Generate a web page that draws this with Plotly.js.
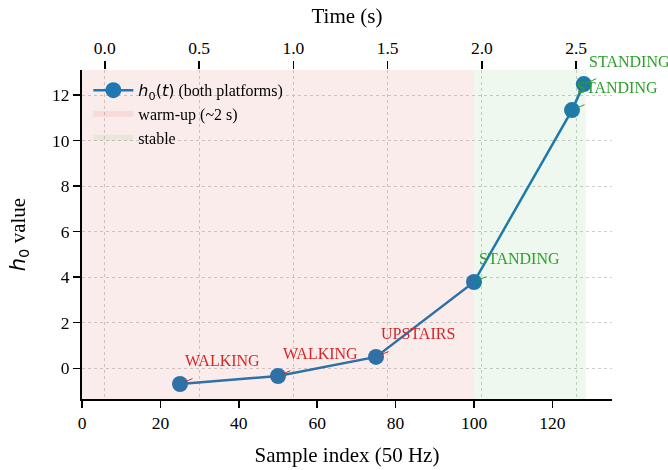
<!DOCTYPE html>
<html>
<head>
<meta charset="utf-8">
<script src="https://cdn.plot.ly/plotly-3.0.1.min.js"></script>
<style>html,body{margin:0;padding:0;background:#fff;}#chart{width:668px;height:470px;}</style>
</head>
<body>
<div id="chart"></div>
<script>
// ---- data ----
const sampleIdx = [25, 50, 75, 100, 125, 128];
const h0Values = [-0.69, -0.34, 0.50, 3.79, 11.34, 12.48];
const activityLabels = ['WALKING', 'WALKING', 'UPSTAIRS', 'STANDING', 'STANDING', 'STANDING'];
const warmupSpan = [0, 100];
const stableSpan = [100, 128.5];
const sampleRateHz = 50;
const sampleTicks = [0, 20, 40, 60, 80, 100, 120];
const timeTicks = [0.0, 0.5, 1.0, 1.5, 2.0, 2.5];
const h0Ticks = [0, 2, 4, 6, 8, 10, 12];

// ---- styles ----
const SERIF = 'Liberation Serif, Times New Roman, serif';
const BLUE = '#1f77b4', RED = '#d62728', GREEN = '#2ca02c';
const GRID = '#cfcfcf';

const timeVals = sampleIdx.map(s => s / sampleRateHz);

function spanTrace(span, name, color, rank) {
  return {
    x: [span[0], span[1], span[1], span[0], span[0]],
    y: [0, 0, 1, 1, 0],
    xaxis: 'x', yaxis: 'y2', type: 'scatter', mode: 'none',
    fill: 'toself', fillcolor: color, name: name,
    hoverinfo: 'skip', legendrank: rank
  };
}

const traces = [
  spanTrace(warmupSpan, 'warm-up (~2 s)', 'rgba(214,39,40,0.09)', 2),
  spanTrace(stableSpan, 'stable', 'rgba(44,160,44,0.08)', 3),
  {
    x: sampleIdx, y: h0Values, xaxis: 'x', yaxis: 'y',
    type: 'scatter', mode: 'lines+markers',
    name: "<span style=\"font-family:'DejaVu Sans'\"><i>h</i><sub>0</sub>(<i>t</i>)</span> (both platforms)",
    line: {color: BLUE, width: 2.5},
    marker: {color: BLUE, size: 16},
    cliponaxis: false,
    legendrank: 1
  },
  {
    x: timeVals, y: h0Values, xaxis: 'x2', yaxis: 'y',
    type: 'scatter', mode: 'markers', opacity: 0,
    showlegend: false, hoverinfo: 'skip', marker: {size: 1}
  }
];

const annotations = [];
sampleIdx.forEach((s, i) => {
  const col = s >= stableSpan[0] ? GREEN : RED;
  annotations.push({
    x: s, y: h0Values[i], xref: 'x', yref: 'y',
    text: activityLabels[i], showarrow: false,
    xanchor: 'left', yanchor: 'middle', xshift: 3, yshift: 23,
    font: {family: SERIF, size: 16, color: col}
  });
  annotations.push({
    x: s, y: h0Values[i], xref: 'x', yref: 'y',
    text: '', showarrow: true, ax: 14, ay: -6,
    arrowhead: 0, arrowwidth: 1, arrowcolor: col, standoff: 5
  });
});

const layout = {
  width: 668, height: 470,
  margin: {l: 82, r: 56, t: 70, b: 71},
  paper_bgcolor: '#ffffff', plot_bgcolor: '#ffffff',
  font: {family: SERIF, color: '#000', size: 17},
  showlegend: true,
  legend: {
    x: 0.012, y: 0.99, xanchor: 'left', yanchor: 'top',
    bgcolor: 'rgba(0,0,0,0)', borderwidth: 0,
    font: {family: SERIF, size: 16, color: '#000'},
    itemwidth: 40, tracegroupgap: 0, traceorder: 'normal'
  },
  xaxis: {
    range: [0, 135.2], tickvals: sampleTicks,
    showgrid: false, zeroline: false,
    showline: true, linecolor: '#000', linewidth: 2,
    ticks: 'outside', ticklen: 7, tickwidth: 1.5, tickcolor: '#000',
    tickfont: {family: SERIF, size: 17.5},
    title: {text: 'Sample index (50 Hz)', font: {family: SERIF, size: 21}, standoff: 15}
  },
  xaxis2: {
    overlaying: 'x', side: 'top', anchor: 'y',
    range: [-0.121, 2.69], tickvals: timeTicks, tickformat: '.1f',
    showgrid: true, gridcolor: GRID, griddash: 'dot', gridwidth: 1,
    zeroline: false, showline: false,
    ticks: 'outside', ticklen: 8, tickwidth: 1.5, tickcolor: '#000',
    tickfont: {family: SERIF, size: 17.5},
    title: {text: 'Time (s)', font: {family: SERIF, size: 21}, standoff: 8}
  },
  yaxis: {
    range: [-1.35, 13.1], tickvals: h0Ticks,
    showgrid: true, gridcolor: GRID, griddash: 'dot', gridwidth: 1,
    zeroline: false,
    showline: true, linecolor: '#000', linewidth: 2,
    ticks: 'outside', ticklen: 7, tickwidth: 1.5, tickcolor: '#000',
    tickfont: {family: SERIF, size: 17.5},
    title: {text: "<span style=\"font-family:'DejaVu Sans'\"><i>h</i><sub>0</sub></span> value", font: {family: SERIF, size: 21}, standoff: 21}
  },
  yaxis2: {
    overlaying: 'y', range: [0, 1], visible: false, fixedrange: true
  },
  annotations: annotations
};

Plotly.newPlot('chart', traces, layout, {staticPlot: true, displayModeBar: false});
</script>
</body>
</html>
